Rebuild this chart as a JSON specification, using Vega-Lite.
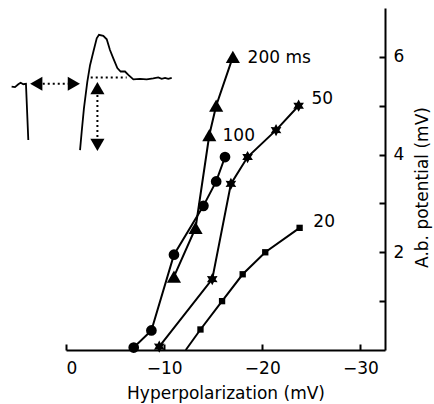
{
  "$schema": "https://vega.github.io/schema/vega-lite/v6.json",
  "width": 319,
  "height": 342,
  "autosize": {"type": "none"},
  "padding": {"left": 66, "top": 8, "right": 49, "bottom": 54},
  "config": {
    "view": {"stroke": null},
    "font": "DejaVu Sans",
    "axis": {
      "grid": false,
      "domainColor": "black",
      "domainWidth": 2,
      "tickColor": "black",
      "tickWidth": 2,
      "labelColor": "black",
      "titleColor": "black",
      "labelFontSize": 17,
      "titleFontSize": 17,
      "titleFontWeight": "normal",
      "labelFont": "DejaVu Sans",
      "titleFont": "DejaVu Sans"
    }
  },
  "datasets": {
    "points": [
      {"series": "200", "hyp": 11.0, "ab": 1.5},
      {"series": "200", "hyp": 13.2, "ab": 2.5},
      {"series": "200", "hyp": 14.6, "ab": 4.4},
      {"series": "200", "hyp": 15.3, "ab": 5.0},
      {"series": "200", "hyp": 17.0, "ab": 6.0},
      {"series": "100", "hyp": 6.9, "ab": 0.05},
      {"series": "100", "hyp": 8.7, "ab": 0.4},
      {"series": "100", "hyp": 11.0, "ab": 1.95},
      {"series": "100", "hyp": 14.0, "ab": 2.95},
      {"series": "100", "hyp": 15.3, "ab": 3.45},
      {"series": "100", "hyp": 16.2, "ab": 3.95},
      {"series": "50", "hyp": 9.5, "ab": 0.07},
      {"series": "50", "hyp": 14.9, "ab": 1.45},
      {"series": "50", "hyp": 16.8, "ab": 3.4},
      {"series": "50", "hyp": 18.5, "ab": 3.95},
      {"series": "50", "hyp": 21.4, "ab": 4.5},
      {"series": "50", "hyp": 23.7, "ab": 5.0},
      {"series": "20", "hyp": 12.2, "ab": 0},
      {"series": "20", "hyp": 13.7, "ab": 0.42},
      {"series": "20", "hyp": 15.9, "ab": 1.0},
      {"series": "20", "hyp": 18.0, "ab": 1.55},
      {"series": "20", "hyp": 20.3, "ab": 2.0},
      {"series": "20", "hyp": 23.8, "ab": 2.5}
    ],
    "labels": [
      {"text": "200 ms", "hyp": 18.5, "ab": 5.98},
      {"text": "100", "hyp": 15.95, "ab": 4.37},
      {"text": "50", "hyp": 25.0, "ab": 5.13},
      {"text": "20", "hyp": 25.2, "ab": 2.63}
    ],
    "trace": [
      {"part": "a", "hyp": -5.54, "ab": 5.39},
      {"part": "a", "hyp": -5.2, "ab": 5.38},
      {"part": "a", "hyp": -4.86, "ab": 5.44},
      {"part": "a", "hyp": -4.62, "ab": 5.47},
      {"part": "a", "hyp": -4.35, "ab": 5.44},
      {"part": "a", "hyp": -4.08, "ab": 5.45},
      {"part": "a", "hyp": -3.84, "ab": 4.3},
      {"part": "b", "hyp": 1.43, "ab": 4.09},
      {"part": "b", "hyp": 1.6, "ab": 4.47},
      {"part": "b", "hyp": 1.83, "ab": 4.95},
      {"part": "b", "hyp": 2.17, "ab": 5.49},
      {"part": "b", "hyp": 2.45, "ab": 5.83},
      {"part": "b", "hyp": 2.78, "ab": 6.1},
      {"part": "b", "hyp": 3.13, "ab": 6.38},
      {"part": "b", "hyp": 3.36, "ab": 6.45},
      {"part": "b", "hyp": 3.8, "ab": 6.43},
      {"part": "b", "hyp": 4.15, "ab": 6.36},
      {"part": "b", "hyp": 4.48, "ab": 6.14},
      {"part": "b", "hyp": 4.82, "ab": 5.97},
      {"part": "b", "hyp": 5.23, "ab": 5.77},
      {"part": "b", "hyp": 5.57, "ab": 5.7},
      {"part": "b", "hyp": 6.01, "ab": 5.7},
      {"part": "b", "hyp": 6.35, "ab": 5.63},
      {"part": "b", "hyp": 6.86, "ab": 5.54},
      {"part": "b", "hyp": 7.54, "ab": 5.55},
      {"part": "b", "hyp": 8.22, "ab": 5.54},
      {"part": "b", "hyp": 8.89, "ab": 5.56},
      {"part": "b", "hyp": 9.4, "ab": 5.58},
      {"part": "b", "hyp": 9.75, "ab": 5.55},
      {"part": "b", "hyp": 10.09, "ab": 5.57},
      {"part": "b", "hyp": 10.42, "ab": 5.55},
      {"part": "b", "hyp": 10.77, "ab": 5.57}
    ],
    "dots": [
      {"seg": "h1", "hyp": -2.37, "ab": 5.45},
      {"seg": "h1", "hyp": 0.23, "ab": 5.45},
      {"seg": "h2", "hyp": 2.52, "ab": 5.58},
      {"seg": "h2", "hyp": 6.18, "ab": 5.58},
      {"seg": "v", "hyp": 3.2, "ab": 5.22},
      {"seg": "v", "hyp": 3.2, "ab": 4.3}
    ],
    "arrows": [
      {"dir": "left", "hyp": -3.03, "ab": 5.45},
      {"dir": "right", "hyp": 0.8, "ab": 5.45},
      {"dir": "up", "hyp": 3.2, "ab": 5.36},
      {"dir": "down", "hyp": 3.2, "ab": 4.2}
    ]
  },
  "encoding": {
    "x": {
      "field": "hyp",
      "type": "quantitative",
      "scale": {"domain": [0, 32.5], "nice": false, "zero": false},
      "axis": {
        "orient": "bottom",
        "values": [0, 10, 20, 30],
        "tickSize": -6,
        "labelPadding": 16,
        "labelExpr": "datum.value == 0 ? '0' : '\u2212' + datum.value",
        "title": "Hyperpolarization (mV)",
        "titlePadding": 9
      }
    },
    "y": {
      "field": "ab",
      "type": "quantitative",
      "scale": {"domain": [0, 7], "nice": false, "zero": false},
      "axis": {
        "orient": "right",
        "values": [1, 2, 3, 4, 5, 6],
        "tickSize": -6,
        "labelPadding": 14,
        "labelExpr": "datum.value % 2 == 0 ? datum.label : ''",
        "title": "A.b. potential (mV)",
        "titleAngle": 270,
        "titleBaseline": "top",
        "titlePadding": 11,
        "titleY": 179
      }
    }
  },
  "layer": [
    {
      "data": {"name": "points"},
      "mark": {"type": "line", "color": "black", "strokeWidth": 2},
      "encoding": {"detail": {"field": "series"}}
    },
    {
      "data": {"name": "points"},
      "transform": [{"filter": "datum.series == '200'"}],
      "mark": {"type": "point", "filled": true, "color": "black", "opacity": 1, "shape": "triangle-up", "size": 200}
    },
    {
      "data": {"name": "points"},
      "transform": [{"filter": "datum.series == '100'"}],
      "mark": {"type": "point", "filled": true, "color": "black", "opacity": 1, "shape": "circle", "size": 115}
    },
    {
      "data": {"name": "points"},
      "transform": [{"filter": "datum.series == '50'"}],
      "mark": {"type": "point", "filled": true, "color": "black", "opacity": 1, "size": 150, "shape": "M0,-1L0.28,-0.48L0.87,-0.5L0.55,0L0.87,0.5L0.28,0.48L0,1L-0.28,0.48L-0.87,0.5L-0.55,0L-0.87,-0.5L-0.28,-0.48Z"}
    },
    {
      "data": {"name": "points"},
      "transform": [{"filter": "datum.series == '20' && datum.ab > 0.01"}],
      "mark": {"type": "point", "filled": true, "color": "black", "opacity": 1, "shape": "square", "size": 40}
    },
    {
      "data": {"name": "labels"},
      "mark": {"type": "text", "align": "left", "baseline": "middle", "fontSize": 17, "color": "black", "font": "DejaVu Sans"},
      "encoding": {"text": {"field": "text"}}
    },
    {
      "data": {"name": "trace"},
      "mark": {"type": "line", "color": "black", "strokeWidth": 1.8},
      "encoding": {"detail": {"field": "part"}}
    },
    {
      "data": {"name": "dots"},
      "mark": {"type": "line", "color": "black", "strokeWidth": 2, "strokeDash": [2, 3]},
      "encoding": {"detail": {"field": "seg"}}
    },
    {
      "data": {"name": "arrows"},
      "mark": {"type": "point", "filled": true, "color": "black", "opacity": 1, "size": 200},
      "encoding": {
        "shape": {
          "field": "dir",
          "type": "nominal",
          "scale": {
            "domain": ["left", "right", "up", "down"],
            "range": ["triangle-left", "triangle-right", "triangle-up", "triangle-down"]
          },
          "legend": null
        }
      }
    }
  ]
}
